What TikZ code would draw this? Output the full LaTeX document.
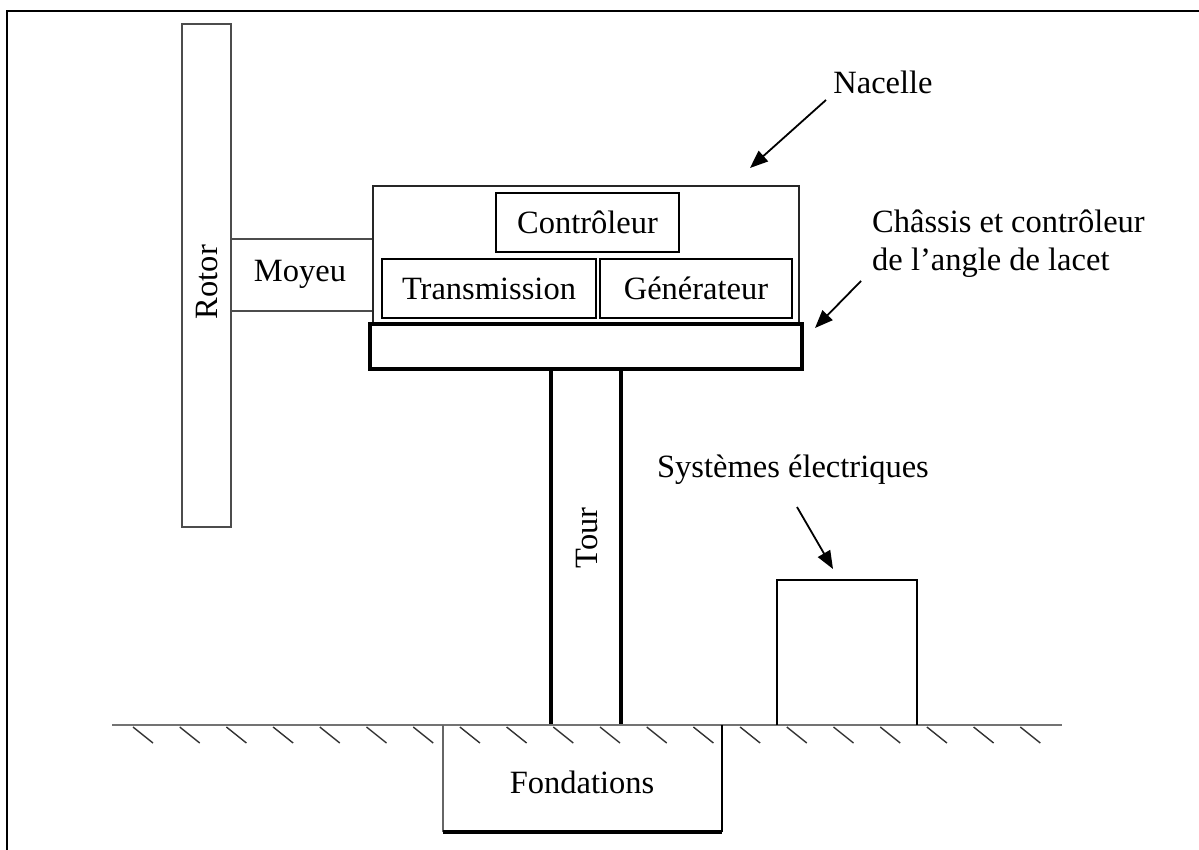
\documentclass[tikz,border=0pt]{standalone}
\usepackage{fontspec}
\setmainfont{Liberation Serif}
\usetikzlibrary{arrows.meta}
\begin{document}
\begin{tikzpicture}[x=1pt,y=-1pt,
  every node/.style={font=\fontsize{32.5}{38}\selectfont, inner sep=0pt},
  part/.style={draw=black, line width=1.8pt, minimum height=59pt, anchor=center},
  grayline/.style={draw=black!70, line width=2.2pt},
  thick/.style={draw=black, line width=3.2pt},
  callout/.style={draw=black, line width=1.8pt, -{Triangle[length=18pt,width=14pt]}},
  hatch/.style={draw=black!80, line width=1.4pt}
]
\useasboundingbox (0,0) rectangle (1199,850);
% frame
\draw[line width=2.5pt] (7,850) -- (7,11) -- (1199,11);
% rotor
\draw[grayline] (182,24) rectangle (231,527);
\node[rotate=90] (rotor) at (207,282) {Rotor};
% hub
\draw[grayline] (231,239) -- (373,239);
\draw[grayline] (231,311) -- (373,311);
\node (moyeu) at (300,274) {Moyeu};
% nacelle
\draw[draw=black!85, line width=2.4pt] (373,324) -- (373,186) -- (799,186) -- (799,324);
\node[part, minimum width=183pt] (ctrl) at (587.5,222.5) {Contrôleur};
\node[part, minimum width=214pt] (trans) at (489,288.5) {Transmission};
\node[part, minimum width=192pt] (gen) at (696,288.5) {Générateur};
% chassis
\draw[thick] (370,324) rectangle (802,369);
% tower
\draw[thick] (551,369) -- (551,725);
\draw[thick] (621,369) -- (621,725);
\node[rotate=90] (tour) at (587,538) {Tour};
% ground
\draw[draw=black!55, line width=2.2pt] (112,725) -- (1062,725);
\foreach \i in {0,...,19}{
  \draw[hatch] ({133+46.7*\i},727) -- ({153+46.7*\i},743);
}
% foundations
\draw[draw=black!60, line width=2.2pt] (443,725) -- (443,832);
\draw[thick] (443,832) -- (722,832);
\draw[draw=black, line width=2.6pt] (722,832) -- (722,725);
\node (fond) at (582,782) {Fondations};
% electrical box
\draw[draw=black, line width=2.6pt] (777,725) -- (777,580) -- (917,580) -- (917,725);
% labels
\node (nacelle) at (883,82) {Nacelle};
\coordinate (nacA) at (826,100);
\coordinate (nacB) at (750,168);
\draw[callout] (nacA) -- (nacB);
\node[anchor=west, align=left] (chassis) at (872,244) {Châssis et contrôleur\\de l’angle de lacet};
\coordinate (chA) at (861,281);
\coordinate (chB) at (815,328);
\draw[callout] (chA) -- (chB);
\node (elec) at (793,470) {Systèmes électriques};
\coordinate (elA) at (797,507);
\coordinate (elB) at (833,569);
\draw[callout] (elA) -- (elB);
\end{tikzpicture}
\end{document}
